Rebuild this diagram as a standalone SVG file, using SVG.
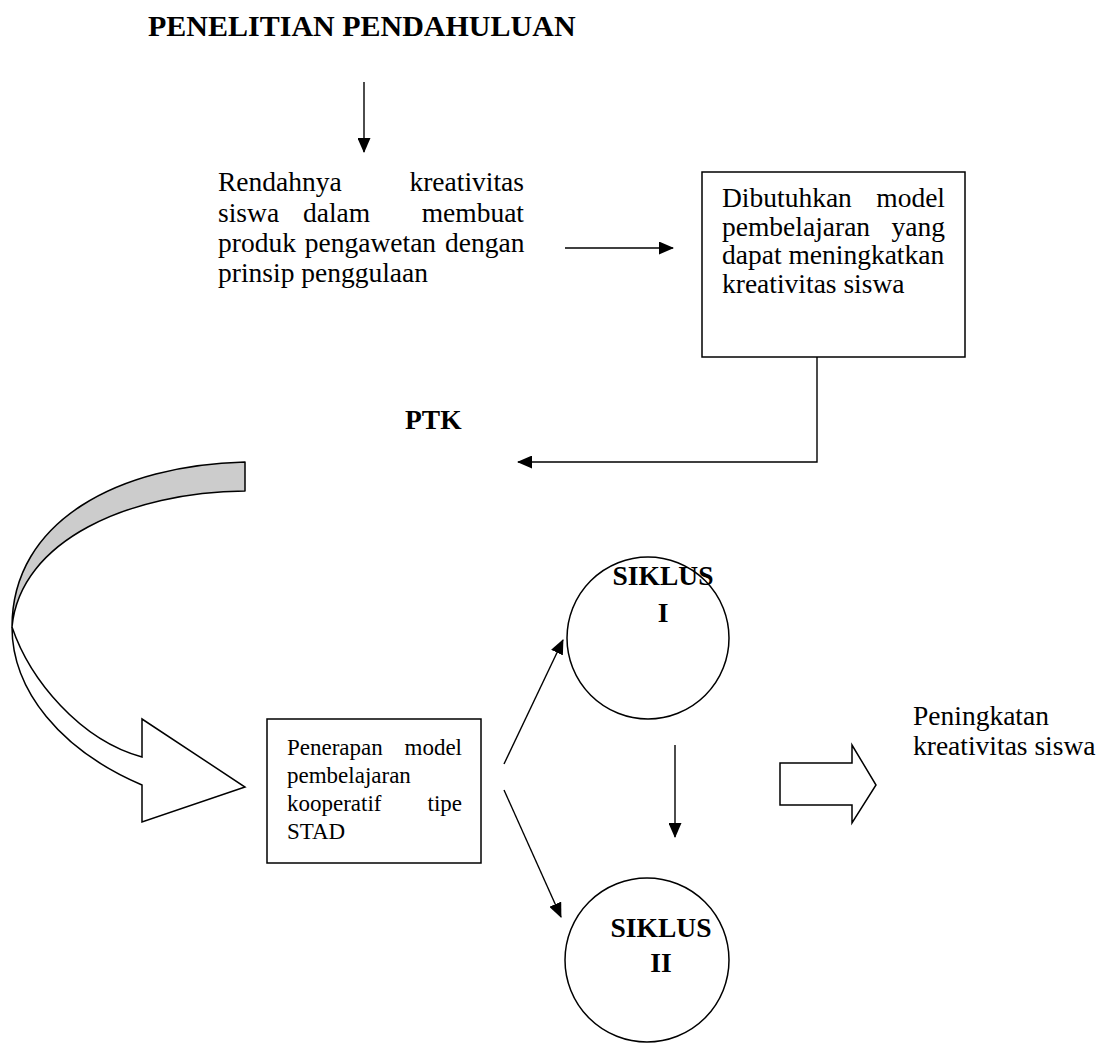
<svg xmlns="http://www.w3.org/2000/svg" width="1115" height="1051" viewBox="0 0 1115 1051">
<style>
.t{font-family:"Liberation Serif","Times New Roman",serif;font-size:27.5px;fill:#000}
.s{font-family:"Liberation Serif","Times New Roman",serif;font-size:23px;fill:#000}
.b{font-weight:bold}
.box{fill:#fff;stroke:#000;stroke-width:1.5}
.ln{fill:none;stroke:#000;stroke-width:1.4}
</style>
<defs>
<marker id="ah" markerUnits="userSpaceOnUse" markerWidth="15" markerHeight="13" refX="14" refY="6.5" orient="auto">
<path d="M0,0 L15,6.5 L0,13 z" fill="#000"/>
</marker>
</defs>
<rect width="1115" height="1051" fill="#fff"/>

<g id="title">
<text class="t b" x="148" y="36" style="font-size:30px">PENELITIAN PENDAHULUAN</text>
</g>

<g id="problem">
<text class="t" x="218" y="191">Rendahnya</text>
<text class="t" x="524" y="191" text-anchor="end">kreativitas</text>
<text class="t" x="218" y="221.5">siswa</text>
<text class="t" x="303" y="221.5">dalam</text>
<text class="t" x="524" y="221.5" text-anchor="end">membuat</text>
<text class="t" x="218" y="252" word-spacing="2">produk pengawetan dengan</text>
<text class="t" x="218" y="282">prinsip penggulaan</text>
</g>

<g id="need">
<rect class="box" x="702" y="172" width="263" height="185"/>
<text class="t" x="722" y="207">Dibutuhkan</text>
<text class="t" x="945" y="207" text-anchor="end">model</text>
<text class="t" x="722" y="235.5">pembelajaran</text>
<text class="t" x="945" y="235.5" text-anchor="end">yang</text>
<text class="t" x="722" y="264">dapat meningkatkan</text>
<text class="t" x="722" y="292.5">kreativitas siswa</text>
</g>

<g id="ptk">
<text class="t b" x="405" y="429">PTK</text>
</g>

<g id="curved-arrow">
<path d="M245,462 C120,465 12,520 12,627 C20,540 130,492 245,491 Z" fill="#cccccc" stroke="#000" stroke-width="1.5" stroke-linejoin="round"/>
<path d="M12,627 C12,690 60,750 142,785 L142,822 L245,787 L142,719 L142,757 C80,740 30,680 12,627 Z" fill="#fff" stroke="#000" stroke-width="1.5" stroke-linejoin="miter"/>
</g>

<g id="stad">
<rect class="box" x="267" y="719" width="214" height="144"/>
<text class="s" x="287" y="755">Penerapan</text>
<text class="s" x="462" y="755" text-anchor="end">model</text>
<text class="s" x="287" y="783">pembelajaran</text>
<text class="s" x="287" y="811">kooperatif</text>
<text class="s" x="462" y="811" text-anchor="end">tipe</text>
<text class="s" x="287" y="839">STAD</text>
</g>

<g id="siklus1">
<circle cx="648" cy="638" r="81" fill="#fff" stroke="#000" stroke-width="1.5"/>
<text class="t b" x="663" y="585" text-anchor="middle">SIKLUS</text>
<text class="t b" x="663" y="622" text-anchor="middle">I</text>
</g>

<g id="siklus2">
<circle cx="647" cy="960" r="82" fill="#fff" stroke="#000" stroke-width="1.5"/>
<text class="t b" x="661" y="937" text-anchor="middle">SIKLUS</text>
<text class="t b" x="661" y="972" text-anchor="middle">II</text>
</g>

<g id="result">
<path d="M780,763 L852,763 L852,745 L876,785 L852,823 L852,805 L780,805 Z" fill="#fff" stroke="#000" stroke-width="1.5"/>
<text class="t" x="913" y="725">Peningkatan</text>
<text class="t" x="913" y="755">kreativitas siswa</text>
</g>

<g id="connectors">
<line class="ln" x1="364" y1="82" x2="364" y2="152" marker-end="url(#ah)"/>
<line class="ln" x1="565" y1="248" x2="673" y2="248" marker-end="url(#ah)"/>
<polyline class="ln" points="817,357 817,462 518,462" marker-end="url(#ah)"/>
<line class="ln" x1="504" y1="764" x2="563" y2="640" marker-end="url(#ah)"/>
<line class="ln" x1="504" y1="790" x2="561" y2="917" marker-end="url(#ah)"/>
<line class="ln" x1="675" y1="745" x2="675" y2="837" marker-end="url(#ah)"/>
</g>
</svg>
